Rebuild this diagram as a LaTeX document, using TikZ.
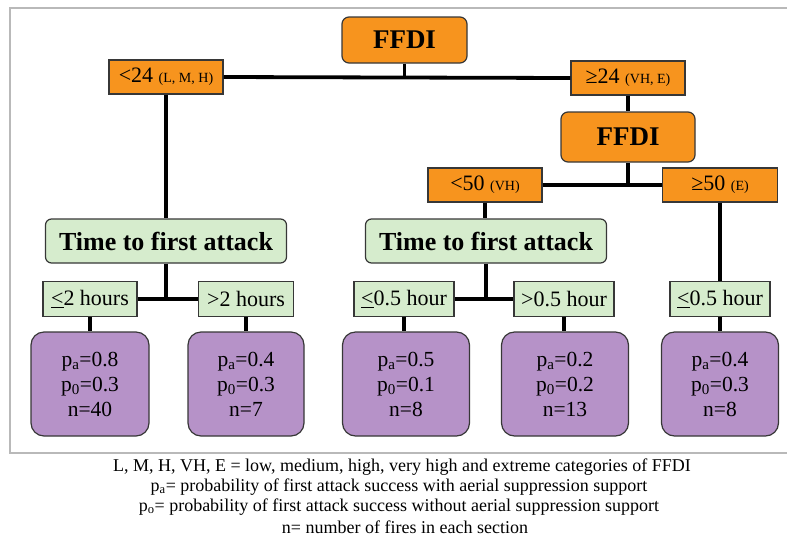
\documentclass[tikz,border=0pt]{standalone}
\usepackage{fontspec}
\setmainfont{Liberation Serif}
\definecolor{ffdiorange}{RGB}{247,148,30}
\definecolor{timegreen}{RGB}{214,236,205}
\definecolor{leafpurple}{RGB}{182,146,200}
\definecolor{edgegray}{RGB}{55,55,55}
\newcommand{\lvlnote}[1]{{\fontsize{14}{15}\selectfont #1}}
\begin{document}
\begin{tikzpicture}[x=1pt,y=-1pt,
  every node/.style={inner sep=0pt, align=center},
  link/.style={line width=3.8pt, black},
  ffdibox/.style={draw=edgegray, line width=1.2pt, fill=ffdiorange, rounded corners=7pt,
    font=\fontsize{27}{30}\selectfont\bfseries},
  rangebox/.style={draw=edgegray, line width=1.2pt, fill=ffdiorange, minimum height=34pt,
    font=\fontsize{22}{24}\selectfont},
  timebox/.style={draw=edgegray, line width=1.2pt, fill=timegreen, rounded corners=6pt,
    minimum width=241pt, minimum height=44pt, font=\fontsize{26}{28}\selectfont\bfseries},
  hourbox/.style={draw=edgegray, line width=1.2pt, fill=timegreen, minimum height=35pt,
    font=\fontsize{22}{24}\selectfont},
  leafbox/.style={draw=edgegray, line width=1.2pt, fill=leafpurple, rounded corners=13pt,
    minimum height=104pt, font=\fontsize{21.5}{25}\selectfont},
  note/.style={font=\fontsize{18}{20}\selectfont}
]
\useasboundingbox (0,0) rectangle (787,542);
% frame around the tree
\draw[gray!55, line width=1.6pt] (800,8) -- (10,8) -- (10,453) -- (800,453);

% FFDI split nodes
\node[ffdibox, minimum width=125pt, minimum height=46pt] (ffdiA) at (404.5,40) {FFDI};
\node[rangebox, minimum width=114pt] (lt24) at (166,77) {<24 \lvlnote{(L, M, H)}};
\node[rangebox, minimum width=114pt] (ge24) at (628,78) {≥24 \lvlnote{(VH, E)}};
\node[ffdibox, minimum width=134pt, minimum height=50pt] (ffdiB) at (628,137) {FFDI};
\node[rangebox, minimum width=114pt] (lt50) at (485,185) {<50 \lvlnote{(VH)}};
\node[rangebox, minimum width=115pt] (ge50) at (720,185) {≥50 \lvlnote{(E)}};

% time to first attack
\node[timebox] (timeA) at (166,241) {Time to first attack};
\node[timebox] (timeB) at (486,241) {Time to first attack};

\node[hourbox, minimum width=94pt] (le2) at (90,299) {\underline{<}2 hours};
\node[hourbox, minimum width=95pt] (gt2) at (246,299) {>2 hours};
\node[hourbox, minimum width=100pt] (le05a) at (404,299) {\underline{<}0.5 hour};
\node[hourbox, minimum width=100pt] (gt05) at (564,299) {>0.5 hour};
\node[hourbox, minimum width=100pt] (le05b) at (720,299) {\underline{<}0.5 hour};

% leaves
\node[leafbox, minimum width=118pt] (leaf1) at (90,384) {p\textsubscript{a}=0.8\\p\textsubscript{0}=0.3\\n=40};
\node[leafbox, minimum width=116pt] (leaf2) at (246,384) {p\textsubscript{a}=0.4\\p\textsubscript{0}=0.3\\n=7};
\node[leafbox, minimum width=127pt] (leaf3) at (406,384) {p\textsubscript{a}=0.5\\p\textsubscript{0}=0.1\\n=8};
\node[leafbox, minimum width=127pt] (leaf4) at (565,384) {p\textsubscript{a}=0.2\\p\textsubscript{0}=0.2\\n=13};
\node[leafbox, minimum width=117pt] (leaf5) at (720,384) {p\textsubscript{a}=0.4\\p\textsubscript{0}=0.3\\n=8};

% connectors
\draw[link] (ffdiA.south) -- (ffdiA.south |- lt24.east);
\draw[link] (lt24.east) -- (ge24.west);
\draw[link] (ge24.south) -- (ffdiB.north);
\draw[link] (ffdiB.south) -- (ffdiB.south |- lt50.east);
\draw[link] (lt50.east) -- (ge50.west);
\draw[link] (lt24.south) -- (timeA.north);
\draw[link] (lt50.south) -- (lt50.south |- timeB.north);
\draw[link] (ge50.south) -- (le05b.north);
\draw[link] (timeA.south) -- (timeA.south |- le2.east);
\draw[link] (le2.east) -- (gt2.west);
\draw[link] (timeB.south) -- (timeB.south |- le05a.east);
\draw[link] (le05a.east) -- (gt05.west);
\draw[link] (le2.south) -- (le2.south |- leaf1.north);
\draw[link] (gt2.south) -- (gt2.south |- leaf2.north);
\draw[link] (le05a.south) -- (le05a.south |- leaf3.north);
\draw[link] (gt05.south) -- (gt05.south |- leaf4.north);
\draw[link] (le05b.south) -- (le05b.south |- leaf5.north);

% legend
\node[note] (legA) at (402,467) {L, M, H, VH, E = low, medium, high, very high and extreme categories of FFDI};
\node[note] (legB) at (399,487) {p\textsubscript{a}= probability of first attack success with aerial suppression support};
\node[note] (legC) at (399,507) {p\textsubscript{o}= probability of first attack success without aerial suppression support};
\node[note] (legD) at (405,527) {n= number of fires in each section};
\end{tikzpicture}
\end{document}
